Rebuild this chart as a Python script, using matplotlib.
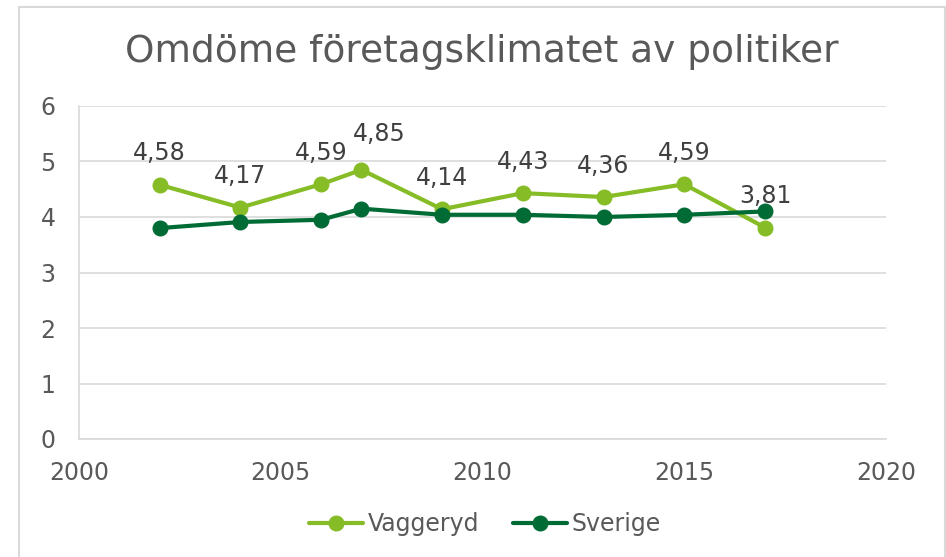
import matplotlib.pyplot as plt
from matplotlib.patches import Rectangle

# data
years = [2002, 2004, 2006, 2007, 2009, 2011, 2013, 2015, 2017]
vaggeryd = [4.58, 4.17, 4.59, 4.85, 4.14, 4.43, 4.36, 4.59, 3.81]
sverige = [3.80, 3.91, 3.95, 4.15, 4.04, 4.04, 4.00, 4.04, 4.10]
x_ticks = [2000, 2005, 2010, 2015, 2020]
y_ticks = [0, 1, 2, 3, 4, 5, 6]

light_green = '#86BC25'
dark_green = '#006B35'
text_color = '#595959'
grid_color = '#D9D9D9'

plt.rcParams['font.family'] = 'DejaVu Sans'

W, H = 946, 557
fig = plt.figure(figsize=(W / 100, H / 100), dpi=100)
ax = fig.add_axes([79 / W, (H - 439) / H, 807 / W, 333 / H])

# chart frame (runs off the bottom of the picture)
fig.patches.append(Rectangle((19 / W, -0.02), 926 / W, 1.02 - 7 / H,
                             transform=fig.transFigure, fill=False,
                             edgecolor='#D9D9D9', linewidth=1.5))

ax.plot(years, vaggeryd, color=light_green, lw=3, marker='o', ms=10.5,
        label='Vaggeryd', zorder=3, solid_capstyle='round')
ax.plot(years, sverige, color=dark_green, lw=3, marker='o', ms=10.5,
        label='Sverige', zorder=4, solid_capstyle='round')

# excel nudged the 2007 label right so it doesn't hit the 2006 one
for i, (x, y) in enumerate(zip(years, vaggeryd)):
    dx, dy = (13, 17) if i == 3 else (0, 14)
    ax.annotate(f'{y:.2f}'.replace('.', ','), (x, y), xytext=(dx, dy),
                textcoords='offset points', ha='center', va='bottom',
                fontsize=17, color='#404040')

ax.set_xlim(2000, 2020)
ax.set_ylim(0, 6)
ax.set_xticks(x_ticks)
ax.set_yticks(y_ticks)
ax.tick_params(length=0, labelsize=17, colors=text_color)
ax.tick_params(axis='x', pad=16)
ax.tick_params(axis='y', pad=17)
ax.grid(axis='y', color=grid_color, lw=1.2)
ax.set_axisbelow(True)
for side in ['top', 'right']:
    ax.spines[side].set_visible(False)
ax.spines['left'].set_color(grid_color)
ax.spines['bottom'].set_color(grid_color)
ax.spines['left'].set_linewidth(1.2)
ax.spines['bottom'].set_linewidth(1.2)

fig.text(482 / W, 1 - 52 / H, 'Omdöme företagsklimatet av politiker',
         ha='center', va='center', fontsize=27, color=text_color)

ax.legend(loc='center', bbox_to_anchor=(485 / W, 1 - 524 / H),
          bbox_transform=fig.transFigure, ncol=2,
          frameon=False, fontsize=17, labelcolor=text_color,
          handlelength=2.3, handletextpad=0.2, columnspacing=1.4)

fig.savefig('out.png', dpi=100)
